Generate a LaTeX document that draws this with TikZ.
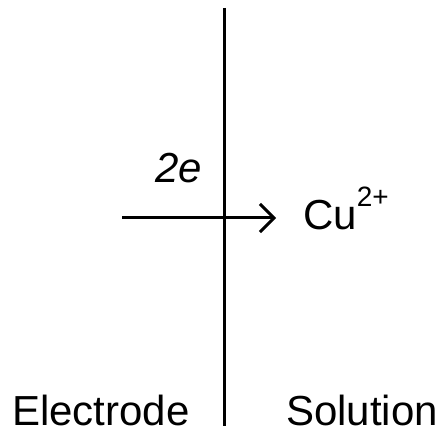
\documentclass[tikz,border=0pt]{standalone}
\usepackage{fontspec}
\setmainfont{Liberation Sans}
\usetikzlibrary{arrows.meta}
\begin{document}
\begin{tikzpicture}[x=1pt,y=1pt,
  lbl/.style={inner sep=0pt,anchor=base west,font=\fontsize{42}{50}\selectfont},
  ln/.style={line width=3pt}]
\useasboundingbox (0,0) rectangle (446,431);
\coordinate (top) at (224,423);
\coordinate (bot) at (224,5);
\draw[ln] (top) -- (bot);
\coordinate (as) at (122,213);
\coordinate (ae) at (276,213);
\draw[ln,-{Straight Barb[length=14pt,width=28pt,line width=3pt]}] (as) -- (ae);
\node[lbl,font=\fontsize{42}{50}\selectfont\itshape] (e) at (155,248) {2e};
\node[lbl] (cu) at (303,201) {Cu\raisebox{23pt}{\fontsize{28}{30}\selectfont 2+}};
\node[lbl,text depth=0pt] (el) at (12,6) {Electrode};
\node[lbl,text depth=0pt] (so) at (286,6) {Solution};
\end{tikzpicture}
\end{document}
